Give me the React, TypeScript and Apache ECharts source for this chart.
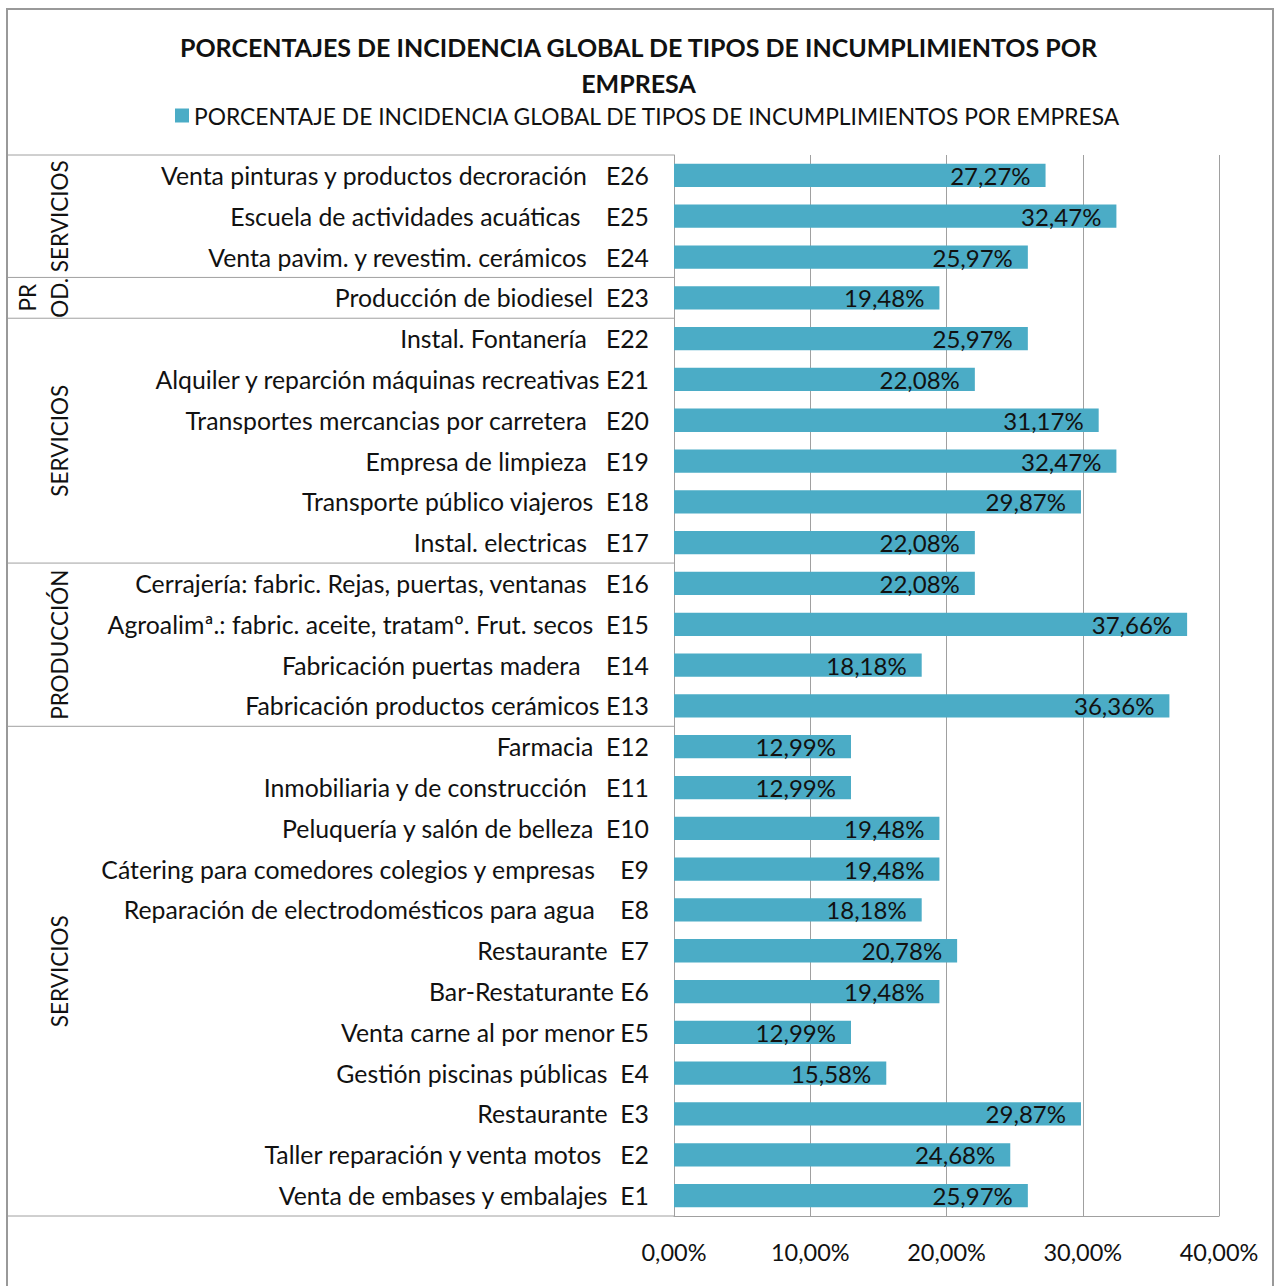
import React, { useEffect, useRef } from "react";
import * as echarts from "echarts";

const TITLE_LINES = ["PORCENTAJES DE INCIDENCIA GLOBAL DE TIPOS DE INCUMPLIMIENTOS POR", "EMPRESA"];
const SERIES_NAME = "PORCENTAJE DE INCIDENCIA GLOBAL DE TIPOS DE INCUMPLIMIENTOS POR EMPRESA";

// top to bottom
const categories = [
  "Venta pinturas y productos decroración   E26",
  "Escuela de actividades acuáticas    E25",
  "Venta pavim. y revestim. cerámicos   E24",
  "Producción de biodiesel  E23",
  "Instal. Fontanería   E22",
  "Alquiler y reparción máquinas recreativas E21",
  "Transportes mercancias por carretera   E20",
  "Empresa de limpieza   E19",
  "Transporte público viajeros  E18",
  "Instal. electricas   E17",
  "Cerrajería: fabric. Rejas, puertas, ventanas   E16",
  "Agroalimª.: fabric. aceite, tratamº. Frut. secos  E15",
  "Fabricación puertas madera    E14",
  "Fabricación productos cerámicos E13",
  "Farmacia  E12",
  "Inmobiliaria y de construcción   E11",
  "Peluquería y salón de belleza  E10",
  "Cátering para comedores colegios y empresas    E9",
  "Reparación de electrodomésticos para agua    E8",
  "Restaurante  E7",
  "Bar-Restaturante E6",
  "Venta carne al por menor E5",
  "Gestión piscinas públicas  E4",
  "Restaurante  E3",
  "Taller reparación y venta motos   E2",
  "Venta de embases y embalajes  E1",
];

const values = [
  27.27, 32.47, 25.97, 19.48, 25.97, 22.08, 31.17, 32.47, 29.87, 22.08, 22.08, 37.66, 18.18,
  36.36, 12.99, 12.99, 19.48, 19.48, 18.18, 20.78, 19.48, 12.99, 15.58, 29.87, 24.68, 25.97,
];

const groupLabels = ["SERVICIOS", "PR\nOD.", "SERVICIOS", "PRODUCCIÓN", "SERVICIOS"];
const groupSizes = [3, 1, 6, 4, 12];

const X_MIN = 0;
const X_MAX = 40;
const X_INTERVAL = 10;

const FONT = "Lato, 'Open Sans', sans-serif";
const BAR_COLOR = "#4BACC6";
const LINE_COLOR = "#A0A0A0";
const TEXT_COLOR = "#111111";

const fmt = (v: number) => v.toFixed(2).replace(".", ",") + "%";

export default function App() {
  const ref = useRef<HTMLDivElement>(null);

  useEffect(() => {
    if (!ref.current) return;
    const chart = echarts.init(ref.current, undefined, { renderer: "svg" });
    const option: any = {
      animation: false,
      backgroundColor: "#ffffff",
      title: {
        text: TITLE_LINES.join("\n"),
        left: "center",
        top: 24,
        textStyle: {
          fontFamily: FONT,
          fontWeight: "bold",
          fontSize: 25,
          lineHeight: 36,
          color: TEXT_COLOR,
        },
      },
      legend: {
        top: 99,
        left: 170,
        icon: "rect",
        itemWidth: 14,
        itemHeight: 14,
        itemGap: 8,
        textStyle: { fontFamily: FONT, fontSize: 22.8, color: TEXT_COLOR },
        data: [SERIES_NAME],
      },
      grid: { left: 674, right: 58, top: 155, bottom: 70, containLabel: false },
      xAxis: {
        type: "value",
        min: X_MIN,
        max: X_MAX,
        interval: X_INTERVAL,
        axisLine: { show: true, lineStyle: { color: LINE_COLOR, width: 1 } },
        axisTick: { show: false },
        splitLine: { show: true, lineStyle: { color: LINE_COLOR, width: 1 } },
        axisLabel: {
          formatter: (v: number) => fmt(v),
          fontFamily: FONT,
          fontSize: 23.5,
          color: TEXT_COLOR,
          margin: 24,
        },
      },
      yAxis: {
        type: "category",
        inverse: true,
        data: categories,
        axisLine: { show: true, lineStyle: { color: LINE_COLOR, width: 1 } },
        axisTick: { show: false },
        splitLine: { show: false },
        axisLabel: {
          fontFamily: FONT,
          fontSize: 24.8,
          color: TEXT_COLOR,
          margin: 25,
        },
      },
      series: [
        {
          name: SERIES_NAME,
          type: "bar",
          data: values,
          barWidth: "57%",
          itemStyle: { color: BAR_COLOR },
          label: {
            show: true,
            position: "insideRight",
            distance: 15,
            formatter: (p: any) => fmt(p.value),
            fontFamily: FONT,
            fontSize: 24,
            color: TEXT_COLOR,
          },
        },
      ],
    };
    chart.setOption(option);

    const yOf = (i: number) => chart.convertToPixel({ yAxisIndex: 0 }, categories[i]) as number;
    const half = (yOf(1) - yOf(0)) / 2;
    const axisX = chart.convertToPixel({ xAxisIndex: 0 }, X_MIN) as number;
    const leftX = 8;
    const graphics: any[] = [];
    // outer border
    graphics.push({
      type: "rect",
      shape: { x: 7, y: 9, width: 1266, height: 1320 },
      style: { fill: "none", stroke: "#999999", lineWidth: 2 },
      silent: true,
    });
    let start = 0;
    const bounds: number[] = [yOf(0) - half];
    groupSizes.forEach((size, gi) => {
      const end = start + size - 1;
      const top = yOf(start) - half;
      const bottom = yOf(end) + half;
      bounds.push(bottom);
      const label = groupLabels[gi];
      const multi = label.indexOf("\n") >= 0;
      graphics.push({
        type: "text",
        x: multi ? 43 : 59,
        y: (top + bottom) / 2,
        rotation: Math.PI / 2,
        style: {
          text: label,
          fontFamily: FONT,
          fontSize: 22.5,
          lineHeight: 32,
          fill: TEXT_COLOR,
          align: "center",
          verticalAlign: "middle",
        },
        silent: true,
      });
      start = end + 1;
    });
    bounds.forEach((b) => {
      graphics.push({
        type: "line",
        shape: { x1: leftX, y1: b, x2: axisX, y2: b },
        style: { stroke: LINE_COLOR, lineWidth: 1 },
        silent: true,
      });
    });
    chart.setOption({ graphic: graphics });

    return () => chart.dispose();
  }, []);

  return (
    <div
      ref={ref}
      style={{ position: "fixed", left: 0, top: 0, width: 1277, height: 1286, background: "#fff" }}
    />
  );
}
